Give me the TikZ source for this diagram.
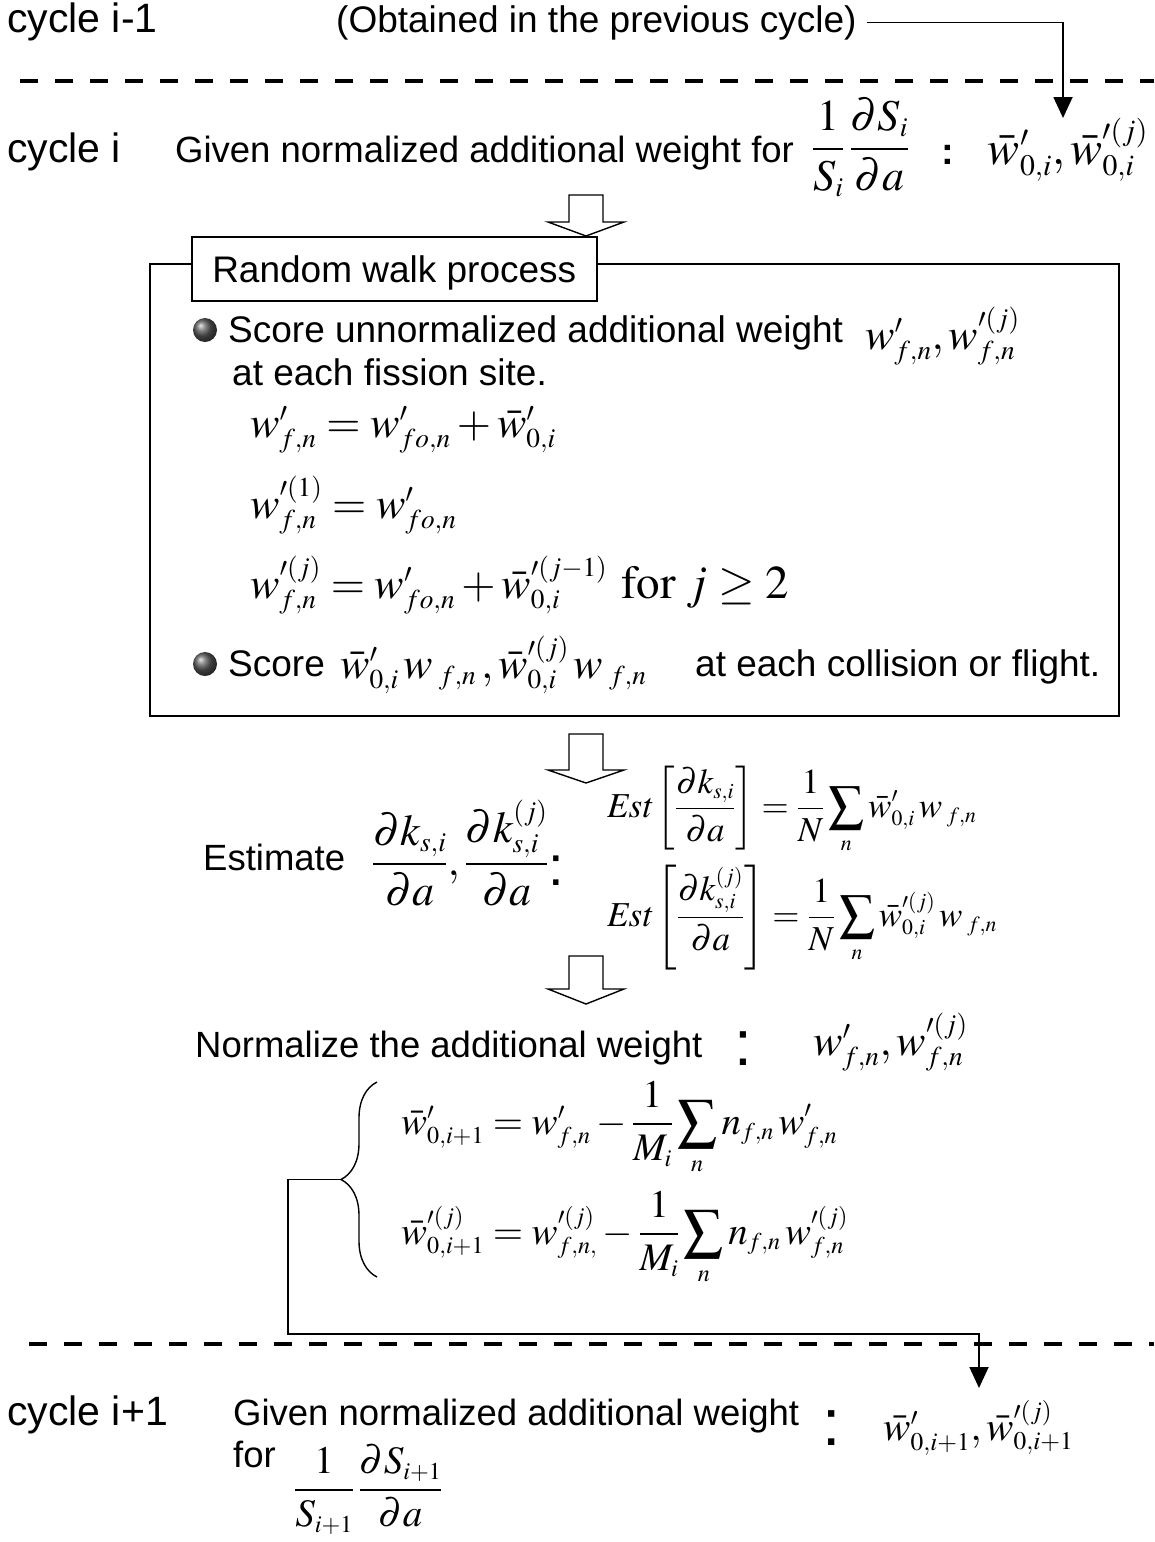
\documentclass[tikz,border=0pt]{standalone}
\usepackage{mathptmx}
\usepackage[no-math]{fontspec}
\setmainfont{Liberation Sans}
\usetikzlibrary{arrows.meta,decorations.pathreplacing}
\def\defaultscriptratio{.62}
\def\defaultscriptscriptratio{.5}
\tikzset{
  lbl/.style={anchor=base west, inner sep=0pt, font=\fontsize{41}{48}\selectfont},
  txt/.style={anchor=base west, inner sep=0pt, font=\fontsize{36.5}{44}\selectfont},
  btxt/.style={anchor=base west, inner sep=0pt, font=\fontsize{37}{44}\selectfont},
  mth/.style={anchor=base west, inner sep=0pt, font=\fontsize{44}{52}\selectfont},
  smth/.style={anchor=base west, inner sep=0pt, font=\fontsize{35}{41}\selectfont},
  nmth/.style={anchor=base west, inner sep=0pt, font=\fontsize{39}{46}\selectfont},
  colon/.style={anchor=base, inner sep=0pt, font=\fontsize{#1}{#1}\selectfont},
  bcolon/.style={anchor=base, inner sep=0pt, font=\bfseries\fontsize{#1}{#1}\selectfont},
  hollow/.style={draw, line width=1.4pt, fill=white, line join=miter},
  dline/.style={line width=3.5pt, dash pattern=on 18pt off 17pt},
  conn/.style={line width=1.8pt},
  tipend/.style={-{Triangle[length=21pt,width=19pt]}},
  bul/.style={ball color=gray!70!black},
}
\newcommand\myharrow[4]{%
  \draw[hollow] (#1-17,#2) -- (#1+17,#2) -- (#1+17,#3) -- (#1+38,#3) -- (#1,#4) -- (#1-38,#3) -- (#1-17,#3) -- cycle;}
\begin{document}
\begin{tikzpicture}[x=1pt,y=-1pt]
\useasboundingbox (0,0) rectangle (1154,1542);
% row 1
\node[lbl] (c1) at (7,32) {cycle i-1};
\node[txt, font=\fontsize{37}{44}\selectfont] (obt) at (336,32) {(Obtained in the previous cycle)};
\coordinate (t1) at (1063,118);
\draw[conn,tipend] ([xshift=10pt]obt.east) -| (t1);
\draw[dline] (20,81) -- (1154,81);
% row 2
\node[lbl] (c2) at (7,162) {cycle i};
\node[txt] (g1) at (175,162) {Given normalized additional weight for};
\node[mth] (f1) at (812,160) {$\displaystyle\frac{1}{S_i}\,\frac{\partial S_i}{\partial a}$};
\node[bcolon=38] (k1) at (948,164) {:};
\node[mth, anchor=base east, font=\fontsize{48}{56}\selectfont] (w1) at (1148,164) {$\bar w'_{0,i},\bar w'^{(j)}_{0,i}$};
\myharrow{586}{195}{222}{236}
% random walk box
\draw[line width=1.5pt] (150,264) rectangle (1119,716);
\node[draw, line width=1.5pt, fill=white, anchor=north west, minimum width=405pt, minimum height=64pt, inner sep=0pt, text height=27pt, text depth=0pt, font=\fontsize{37}{44}\selectfont] (rw) at (191,236) {Random walk process};
\shade[bul] (205,330) circle[radius=12pt];
\node[btxt] (s1) at (228,342) {Score unnormalized additional weight};
\node[mth] (s1m) at (865,349) {$w'_{f,n}, w'^{(j)}_{f,n}$};
\node[btxt] (s1b) at (232,385) {at each fission site.};
\node[mth] (e1) at (250,437) {$w'_{f,n} = w'_{fo,n} + \bar w'_{0,i}$};
\node[mth] (e2) at (250,518) {$w'^{(1)}_{f,n} = w'_{fo,n}$};
\node[mth] (e3) at (250,598) {$w'^{(j)}_{f,n} = w'_{fo,n} + \bar w'^{(j-1)}_{0,i}$\hspace{14pt}{\fontsize{47}{54}\selectfont$\mathrm{for}\;j \ge 2$}};
\shade[bul] (205,664) circle[radius=12pt];
\node[btxt] (s2) at (228,676) {Score};
\node[mth] (s2m) at (340,678) {$\bar w'_{0,i}\, w_{\;f,n}\,, \bar w'^{(j)}_{0,i}\, w_{\;f,n}$};
\node[btxt] (s2b) at (695,676) {at each collision or flight.};
% estimate
\myharrow{586}{734}{770}{783}
\node[txt] (est) at (203,870) {Estimate};
\node[mth] (ef) at (372,875) {$\displaystyle\frac{\partial k_{s,i}}{\partial a},\frac{\partial k^{(j)}_{s,i}}{\partial a}$};
\node[colon=56] (k2) at (556,885) {:};
\node[smth] (ee1) at (607,817) {$\displaystyle \mathit{Est}\left[\frac{\partial k_{s,i}}{\partial a}\right]=\frac{1}{N}\sum_n \bar w'_{0,i}\, w_{\;f,n}$};
\node[smth] (ee2) at (607,926) {$\displaystyle \mathit{Est}\left[\frac{\partial k^{(j)}_{s,i}}{\partial a}\right]=\frac{1}{N}\sum_n \bar w'^{(j)}_{0,i}\, w_{\;f,n}$};
% normalize
\myharrow{586}{956}{989}{1004}
\node[txt] (nrm) at (195,1057) {Normalize the additional weight};
\node[colon=64] (k3) at (743,1065) {:};
\node[mth] (nm) at (813,1055) {$w'_{f,n}, w'^{(j)}_{f,n}$};
\draw[line width=1.4pt, decorate, decoration={brace, amplitude=36pt}] (377,1277) -- (377,1082);
\coordinate (btip) at (341,1179.5);
\node[nmth] (n1) at (401,1134) {$\bar w'_{0,i+1} = w'_{f,n} - \displaystyle\frac{1}{M_i}\sum_n n_{f,n}\, w'_{f,n}$};
\node[nmth] (n2) at (401,1244) {$\bar w'^{(j)}_{0,i+1} = w'^{(j)}_{f,n,} - \displaystyle\frac{1}{M_i}\sum_n n_{f,n}\, w'^{(j)}_{f,n}$};
\coordinate (k4) at (288,1334);
\coordinate (t2) at (979,1388);
\draw[conn,tipend] (btip) -| (k4) -| (t2);
\draw[dline] (29,1344) -- (1154,1344);
% row 3
\node[lbl] (c3) at (7,1425) {cycle i+1};
\node[txt] (g3) at (233,1425) {Given normalized additional weight};
\node[colon=66] (k5) at (832,1445) {:};
\node[nmth, font=\fontsize{41}{48}\selectfont] (w3) at (883,1440) {$\bar w'_{0,i+1},\bar w'^{(j)}_{0,i+1}$};
\node[txt] (for3) at (233,1467) {for};
\node[nmth] (f3) at (294,1500) {$\displaystyle\frac{1}{S_{i+1}}\,\frac{\partial S_{i+1}}{\partial a}$};
\end{tikzpicture}
\end{document}
